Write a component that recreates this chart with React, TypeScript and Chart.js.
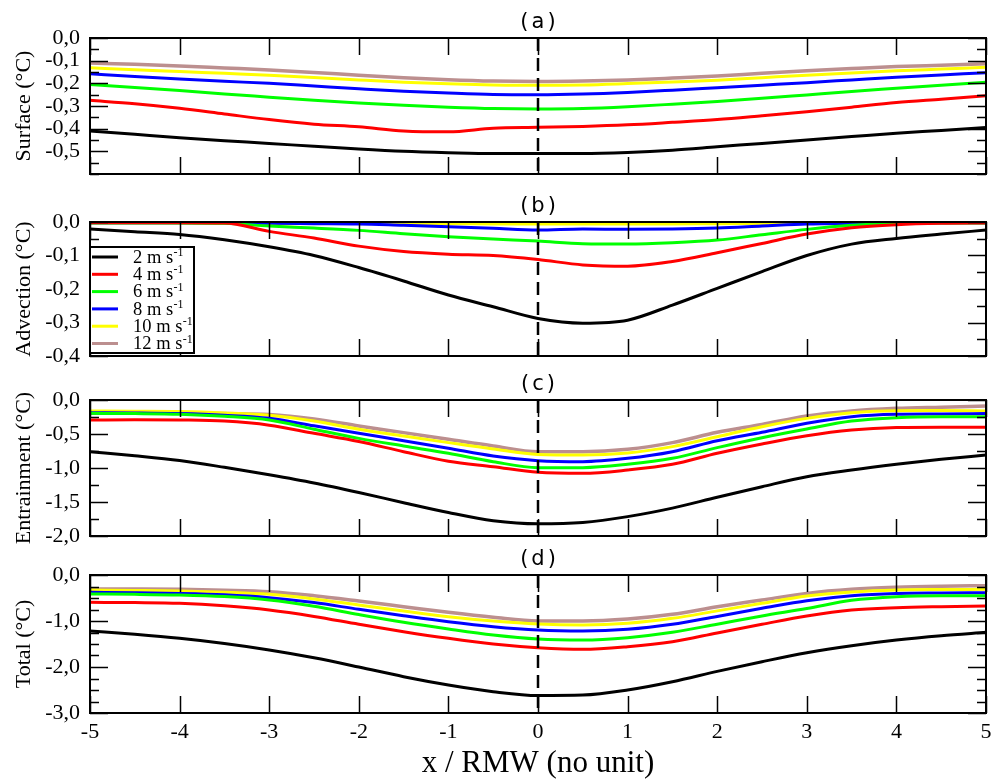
import React, { useEffect, useRef } from 'react';
import { Chart, registerables } from 'chart.js';
Chart.register(...registerables);

const SERIF = "'Liberation Serif', 'Times New Roman', serif";
const SANS = "'DejaVu Sans', sans-serif";

// x positions (x / RMW)
const xPositions = [-5, -4.5, -4, -3.5, -3, -2.5, -2, -1.5, -1, -0.5, 0, 0.5, 1, 1.5, 2, 2.5, 3, 3.5, 4, 4.5, 5];
const windSpeeds = [2, 4, 6, 8, 10, 12];
const seriesColors = ['#000000', '#ff0000', '#00ff00', '#0000ff', '#ffff00', '#bc8f8f'];
const xTickLabels = ['-5', '-4', '-3', '-2', '-1', '0', '1', '2', '3', '4', '5'];

// (a) Surface
const surface2 = [-0.41, -0.425, -0.44, -0.453, -0.465, -0.478, -0.49, -0.5, -0.506, -0.51, -0.51, -0.51, -0.505, -0.495, -0.48, -0.465, -0.45, -0.435, -0.42, -0.408, -0.395];
const surface4 = [-0.275, -0.29, -0.31, -0.335, -0.36, -0.38, -0.392, -0.41, -0.414, -0.398, -0.394, -0.39, -0.383, -0.372, -0.36, -0.343, -0.325, -0.305, -0.285, -0.27, -0.255];
const surface6 = [-0.205, -0.218, -0.232, -0.247, -0.261, -0.275, -0.287, -0.297, -0.305, -0.311, -0.313, -0.311, -0.303, -0.292, -0.28, -0.266, -0.251, -0.236, -0.222, -0.208, -0.195];
const surface8 = [-0.158, -0.17, -0.181, -0.191, -0.2, -0.212, -0.224, -0.235, -0.243, -0.249, -0.25, -0.247, -0.24, -0.23, -0.219, -0.208, -0.197, -0.185, -0.173, -0.163, -0.153];
const surface10 = [-0.131, -0.14, -0.148, -0.156, -0.164, -0.174, -0.185, -0.195, -0.202, -0.207, -0.209, -0.207, -0.201, -0.194, -0.186, -0.175, -0.164, -0.154, -0.145, -0.137, -0.129];
const surface12 = [-0.11, -0.116, -0.123, -0.132, -0.141, -0.152, -0.164, -0.175, -0.184, -0.19, -0.192, -0.19, -0.185, -0.177, -0.168, -0.156, -0.145, -0.135, -0.126, -0.12, -0.114];

// (b) Advection
const advection2 = [-0.021, -0.029, -0.037, -0.053, -0.074, -0.1, -0.136, -0.176, -0.218, -0.253, -0.288, -0.302, -0.293, -0.248, -0.198, -0.148, -0.1, -0.066, -0.049, -0.036, -0.024];
const advection4 = [-0.002, -0.002, -0.002, -0.003, -0.028, -0.048, -0.072, -0.088, -0.096, -0.1, -0.112, -0.128, -0.132, -0.118, -0.092, -0.064, -0.036, -0.017, -0.008, -0.004, -0.003];
const advection6 = [-0.003, -0.003, -0.003, -0.004, -0.012, -0.018, -0.025, -0.035, -0.044, -0.051, -0.057, -0.065, -0.066, -0.062, -0.054, -0.038, -0.022, -0.01, -0.004, -0.003, -0.003];
const advection8 = [-0.002, -0.002, -0.002, -0.002, -0.004, -0.005, -0.006, -0.01, -0.014, -0.019, -0.024, -0.021, -0.022, -0.021, -0.018, -0.012, -0.006, -0.004, -0.003, -0.002, -0.002];
const advection10 = [-0.001, -0.001, -0.002, -0.004, -0.006, -0.004, -0.004, -0.005, -0.005, -0.006, -0.006, -0.006, -0.006, -0.006, -0.005, -0.004, -0.003, -0.003, -0.002, -0.001, -0.001];
const advection12 = [-0.001, -0.001, -0.001, -0.002, -0.002, -0.002, -0.002, -0.003, -0.003, -0.004, -0.004, -0.004, -0.004, -0.004, -0.003, -0.003, -0.002, -0.002, -0.001, -0.001, -0.001];

// (c) Entrainment
const entrain2 = [-0.76, -0.82, -0.89, -0.99, -1.1, -1.22, -1.36, -1.51, -1.655, -1.775, -1.82, -1.8, -1.715, -1.59, -1.43, -1.275, -1.128, -1.03, -0.946, -0.872, -0.81];
const entrain4 = [-0.294, -0.29, -0.294, -0.31, -0.37, -0.49, -0.61, -0.76, -0.9, -0.98, -1.063, -1.078, -1.03, -0.946, -0.784, -0.647, -0.525, -0.441, -0.405, -0.4, -0.4];
const entrain6 = [-0.196, -0.2, -0.21, -0.24, -0.294, -0.43, -0.564, -0.676, -0.784, -0.907, -0.995, -0.995, -0.946, -0.858, -0.7, -0.554, -0.426, -0.31, -0.26, -0.245, -0.245];
const entrain8 = [-0.186, -0.19, -0.2, -0.225, -0.27, -0.38, -0.49, -0.598, -0.71, -0.824, -0.892, -0.907, -0.858, -0.76, -0.6, -0.475, -0.343, -0.245, -0.21, -0.205, -0.2];
const entrain10 = [-0.162, -0.165, -0.17, -0.19, -0.225, -0.31, -0.43, -0.53, -0.627, -0.72, -0.8, -0.81, -0.78, -0.686, -0.54, -0.392, -0.27, -0.186, -0.157, -0.155, -0.16];
const entrain12 = [-0.196, -0.196, -0.196, -0.2, -0.215, -0.28, -0.382, -0.48, -0.578, -0.676, -0.76, -0.76, -0.725, -0.627, -0.475, -0.36, -0.235, -0.16, -0.123, -0.105, -0.088];

// (d) Total
const total2 = [-1.217, -1.29, -1.377, -1.49, -1.63, -1.8, -2.0, -2.21, -2.39, -2.536, -2.62, -2.61, -2.5, -2.32, -2.095, -1.885, -1.69, -1.536, -1.413, -1.319, -1.246];
const total4 = [-0.594, -0.6, -0.616, -0.67, -0.76, -0.9, -1.07, -1.232, -1.377, -1.5, -1.58, -1.616, -1.558, -1.45, -1.26, -1.072, -0.891, -0.76, -0.71, -0.688, -0.674];
const total6 = [-0.413, -0.42, -0.435, -0.47, -0.543, -0.68, -0.86, -1.029, -1.174, -1.304, -1.391, -1.413, -1.362, -1.246, -1.07, -0.891, -0.73, -0.55, -0.471, -0.449, -0.449];
const total8 = [-0.377, -0.385, -0.4, -0.43, -0.493, -0.6, -0.746, -0.884, -1.014, -1.123, -1.196, -1.217, -1.181, -1.072, -0.9, -0.725, -0.558, -0.45, -0.4, -0.39, -0.384];
const total10 = [-0.326, -0.335, -0.348, -0.375, -0.42, -0.52, -0.652, -0.783, -0.906, -1.0, -1.065, -1.087, -1.05, -0.942, -0.78, -0.616, -0.457, -0.37, -0.326, -0.315, -0.312];
const total12 = [-0.304, -0.306, -0.312, -0.33, -0.362, -0.45, -0.565, -0.688, -0.812, -0.92, -1.0, -1.0, -0.957, -0.855, -0.69, -0.543, -0.4, -0.312, -0.268, -0.245, -0.232];

const surfaceTickLabels = ['0,0', '-0,1', '-0,2', '-0,3', '-0,4', '-0,5'];
const advectionTickLabels = ['0,0', '-0,1', '-0,2', '-0,3', '-0,4'];
const entrainTickLabels = ['0,0', '-0,5', '-1,0', '-1,5', '-2,0'];
const totalTickLabels = ['0,0', '-1,0', '-2,0', '-3,0'];

type PanelCfg = {
  title: string; yTitle: string; min: number; step: number; labels: string[];
  series: number[][]; top: number; height: number; padTop: number; padBottom: number;
  showX: boolean; legend: boolean;
};

const panels: PanelCfg[] = [
  { title: '(a)', yTitle: 'Surface (°C)', min: -0.6, step: 0.05, labels: surfaceTickLabels,
    series: [surface2, surface4, surface6, surface8, surface10, surface12],
    top: 0, height: 188, padTop: 38, padBottom: 14, showX: false, legend: false },
  { title: '(b)', yTitle: 'Advection (°C)', min: -0.4, step: 0.05, labels: advectionTickLabels,
    series: [advection2, advection4, advection6, advection8, advection10, advection12],
    top: 188, height: 180, padTop: 34, padBottom: 12, showX: false, legend: true },
  { title: '(c)', yTitle: 'Entrainment (°C)', min: -2.0, step: 0.25, labels: entrainTickLabels,
    series: [entrain2, entrain4, entrain6, entrain8, entrain10, entrain12],
    top: 368, height: 180, padTop: 32, padBottom: 12, showX: false, legend: false },
  { title: '(d)', yTitle: 'Total (°C)', min: -3.0, step: 0.25, labels: totalTickLabels,
    series: [total2, total4, total6, total8, total10, total12],
    top: 548, height: 231, padTop: 27, padBottom: 0, showX: true, legend: false },
];

function fmtTick(v: number): string {
  const r = Math.round(v * 10) / 10;
  if (Math.abs(v - r) > 1e-6) return '';
  let s = r.toFixed(1).replace('.', ',');
  if (s === '-0,0') s = '0,0';
  return s;
}

const panelDecor = {
  id: 'panelDecor',
  afterDatasetsDraw(chart: any, _args: any, opts: any) {
    const { ctx, chartArea: a, scales } = chart;
    const x = scales.x, y = scales.y;
    ctx.save();
    // dashed vertical line at x = 0
    const x0 = x.getPixelForValue(0);
    ctx.strokeStyle = '#000';
    ctx.lineWidth = 2.5;
    ctx.setLineDash([13, 7]);
    ctx.beginPath();
    ctx.moveTo(x0, a.top);
    ctx.lineTo(x0, a.bottom);
    ctx.stroke();
    ctx.setLineDash([]);
    // x ticks (inside, top and bottom)
    ctx.lineWidth = 1.5;
    ctx.beginPath();
    for (const lab of xTickLabels) {
      const px = Math.round(x.getPixelForValue(Number(lab))) + 0.5;
      ctx.moveTo(px, a.top); ctx.lineTo(px, a.top + 17);
      ctx.moveTo(px, a.bottom); ctx.lineTo(px, a.bottom - 17);
    }
    // y ticks (inside, left and right)
    for (const t of y.ticks) {
      const py = Math.round(y.getPixelForValue(t.value)) + 0.5;
      const len = t.label ? 18 : 9;
      ctx.moveTo(a.left, py); ctx.lineTo(a.left + len, py);
      ctx.moveTo(a.right, py); ctx.lineTo(a.right - len, py);
    }
    ctx.stroke();
    // frame
    ctx.lineWidth = 2;
    ctx.strokeRect(a.left, a.top, a.right - a.left, a.bottom - a.top);
    // panel title
    ctx.fillStyle = '#000';
    ctx.font = `21px ${SANS}`;
    ctx.textAlign = 'center';
    ctx.textBaseline = 'middle';
    try { (ctx as any).letterSpacing = '3px'; } catch (e) {}
    ctx.fillText(opts.title, (a.left + a.right) / 2 + 1.5, a.top - 15);
    try { (ctx as any).letterSpacing = '0px'; } catch (e) {}
    // legend
    if (opts.legend) {
      const lx = a.left, ly = a.top + 25, lw = 104, lh = 106;
      ctx.fillStyle = '#fff';
      ctx.fillRect(lx, ly, lw, lh);
      ctx.strokeStyle = '#000';
      ctx.lineWidth = 2;
      ctx.strokeRect(lx, ly, lw, lh);
      chart.data.datasets.forEach((ds: any, i: number) => {
        const yy = ly + 10 + i * 17.3;
        ctx.strokeStyle = ds.borderColor;
        ctx.lineWidth = 3;
        ctx.beginPath();
        ctx.moveTo(lx + 2, yy);
        ctx.lineTo(lx + 28, yy);
        ctx.stroke();
        ctx.fillStyle = '#000';
        ctx.textAlign = 'left';
        ctx.textBaseline = 'middle';
        ctx.font = `18.5px ${SERIF}`;
        ctx.fillText(ds.label, lx + 43, yy + 1);
        const w = ctx.measureText(ds.label).width;
        ctx.font = `12px ${SERIF}`;
        ctx.fillText('-1', lx + 43 + w + 0.5, yy - 4);
      });
    }
    ctx.restore();
  },
};

function Panel({ cfg }: { cfg: PanelCfg }) {
  const ref = useRef<HTMLCanvasElement>(null);
  useEffect(() => {
    const datasets = cfg.series.map((arr, i) => ({
      label: `${windSpeeds[i]} m s`,
      data: xPositions.map((xv, j) => ({ x: xv, y: arr[j] })),
      borderColor: seriesColors[i],
      backgroundColor: seriesColors[i],
      borderWidth: i === 5 ? 3.5 : 3,
      pointRadius: 0,
      fill: false,
      cubicInterpolationMode: 'monotone' as const,
    }));
    const chart = new Chart(ref.current!, {
      type: 'line',
      data: { datasets },
      options: {
        responsive: false,
        animation: false,
        events: [],
        layout: { padding: { left: 0, right: 17, top: cfg.padTop, bottom: cfg.padBottom } },
        plugins: {
          legend: { display: false },
          tooltip: { enabled: false },
          panelDecor: { title: cfg.title, legend: cfg.legend },
        } as any,
        scales: {
          x: {
            type: 'linear', min: -5, max: 5, display: cfg.showX,
            afterFit: cfg.showX ? (s: any) => { s.height = 66; s.paddingLeft = 0; s.paddingRight = 0; } : undefined,
            grid: { display: false, drawTicks: false },
            border: { display: false },
            ticks: {
              stepSize: 1, autoSkip: false, maxRotation: 0, padding: 6, color: '#000',
              font: { family: SERIF, size: 22 },
              callback: (v: any) => (xTickLabels.includes(String(v)) ? String(v) : ''),
            },
            title: {
              display: true, text: 'x / RMW (no unit)', color: '#000',
              font: { family: SERIF, size: 31, lineHeight: 1 }, padding: { top: 0, bottom: 0 },
            },
          },
          y: {
            type: 'linear', min: cfg.min, max: 0,
            afterFit: (s: any) => { s.width = 90; s.paddingTop = 0; s.paddingBottom = 0; },
            grid: { display: false, drawTicks: false },
            border: { display: false },
            ticks: {
              stepSize: cfg.step, autoSkip: false, padding: 10, color: '#000',
              font: { family: SERIF, size: 22 },
              callback: (v: any) => { const s = fmtTick(Number(v)); return cfg.labels.includes(s) ? s : ''; },
            },
            title: {
              display: true, text: cfg.yTitle, color: '#000',
              font: { family: SERIF, size: 22 }, padding: { top: 11, bottom: 0 },
            },
          },
        },
      } as any,
      plugins: [panelDecor],
    });
    return () => chart.destroy();
  }, [cfg]);
  return (
    <canvas
      ref={ref}
      width={1003}
      height={cfg.height}
      style={{ position: 'absolute', left: 0, top: cfg.top, display: 'block' }}
    />
  );
}

export default function App() {
  useEffect(() => {
    document.body.style.margin = '0';
  }, []);
  return (
    <div style={{ position: 'relative', width: 1003, height: 779, background: '#fff', overflow: 'hidden' }}>
      {panels.map((p) => (
        <Panel key={p.title} cfg={p} />
      ))}
    </div>
  );
}
